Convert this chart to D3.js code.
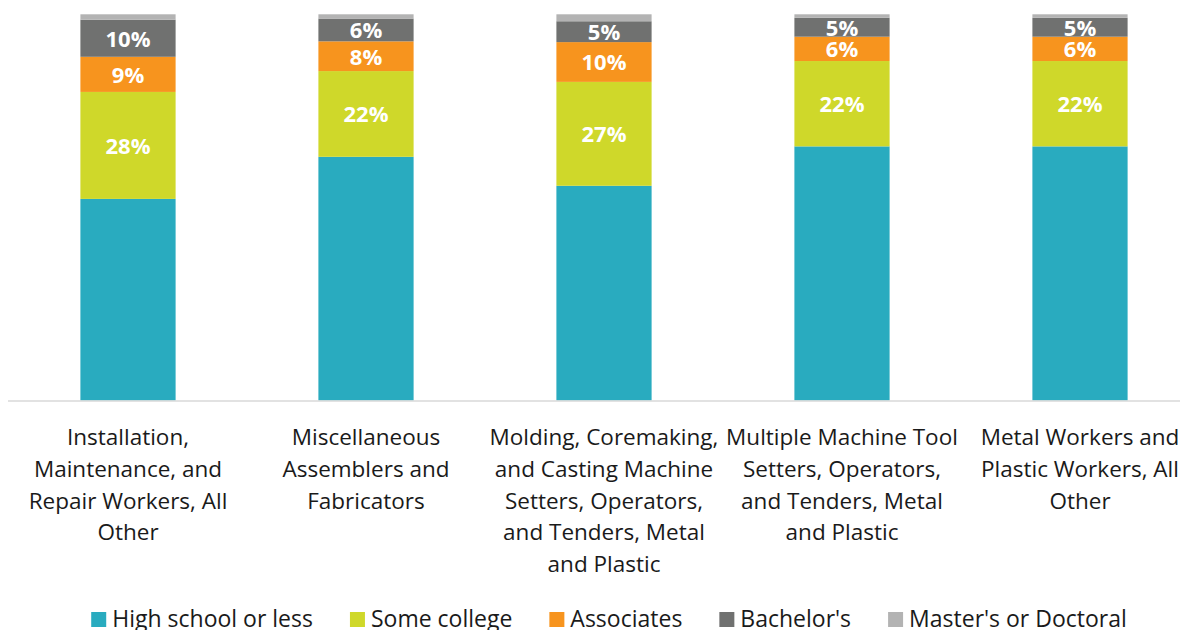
<!DOCTYPE html>
<html>
<head>
<meta charset="utf-8">
<script src="https://cdn.jsdelivr.net/npm/d3@7"></script>
<style>
  body { margin: 0; background: #fff; }
  svg { display: block; font-family: "Open Sans", sans-serif; }
</style>
</head>
<body>
<script>
const categories = [
  "Installation, Maintenance, and Repair Workers, All Other",
  "Miscellaneous Assemblers and Fabricators",
  "Molding, Coremaking, and Casting Machine Setters, Operators, and Tenders, Metal and Plastic",
  "Multiple Machine Tool Setters, Operators, and Tenders, Metal and Plastic",
  "Metal Workers and Plastic Workers, All Other"
];
// tick labels, broken the way the picture breaks them
const tickLines = [
  ["Installation,", "Maintenance, and", "Repair Workers, All", "Other"],
  ["Miscellaneous", "Assemblers and", "Fabricators"],
  ["Molding, Coremaking,", "and Casting Machine", "Setters, Operators,", "and Tenders, Metal", "and Plastic"],
  ["Multiple Machine Tool", "Setters, Operators,", "and Tenders, Metal", "and Plastic"],
  ["Metal Workers and", "Plastic Workers, All", "Other"]
];
const seriesNames = ["High school or less", "Some college", "Associates", "Bachelor's", "Master's or Doctoral"];
const highSchool = [52.2, 63.1, 55.6, 65.8, 65.8];
const someCollege = [27.7, 22.2, 26.9, 22.1, 22.1];
const associates = [9.1, 7.7, 10.3, 6.3, 6.3];
const bachelors = [9.6, 5.9, 5.4, 4.9, 4.9];
const masters = [1.4, 1.1, 1.8, 0.9, 0.9];
const colors = ["#29abbf", "#cfd82a", "#f7941e", "#707170", "#b3b3b3"];
const labelled = [false, true, true, true, false];

const W = 1180, H = 630;

const rows = categories.map((c, i) => ({
  cat: c,
  [seriesNames[0]]: highSchool[i],
  [seriesNames[1]]: someCollege[i],
  [seriesNames[2]]: associates[i],
  [seriesNames[3]]: bachelors[i],
  [seriesNames[4]]: masters[i]
}));

const stacked = d3.stack().keys(seriesNames)(rows);

const x = d3.scaleBand().domain(categories).range([9, 1199]).paddingInner(0.6).paddingOuter(0.3);
const y = d3.scaleLinear().domain([0, 100]).range([400.5, 14.3]);

const svg = d3.select("body").append("svg").attr("width", W).attr("height", H);

const layers = svg.append("g")
  .selectAll("g")
  .data(stacked)
  .join("g")
  .attr("fill", (d, i) => colors[i]);

layers.selectAll("rect")
  .data(d => d)
  .join("rect")
  .attr("x", d => x(d.data.cat))
  .attr("width", x.bandwidth())
  .attr("y", d => y(d[1]))
  .attr("height", d => y(d[0]) - y(d[1]));

// value labels on the middle segments
layers.filter((d, i) => labelled[i])
  .selectAll("text")
  .data(d => d)
  .join("text")
  .attr("x", d => x(d.data.cat) + x.bandwidth() / 2)
  .attr("y", d => (y(d[0]) + y(d[1])) / 2)
  .attr("dy", "0.38em")
  .attr("text-anchor", "middle")
  .style("fill", "#fff")
  .style("font-size", "22px")
  .style("font-weight", "bold")
  .text(d => Math.round(d[1] - d[0]) + "%");

// baseline
svg.append("line")
  .attr("x1", 8).attr("x2", W)
  .attr("y1", y(0) + 0.5).attr("y2", y(0) + 0.5)
  .attr("stroke", "#d9d9d9")
  .attr("stroke-width", 1.5);

// category labels
const ticks = svg.append("g")
  .selectAll("text")
  .data(categories)
  .join("text")
  .attr("x", d => x(d) + x.bandwidth() / 2)
  .attr("y", 445)
  .attr("text-anchor", "middle")
  .style("fill", "#1a1a1a")
  .style("font-size", "22.5px");

ticks.selectAll("tspan")
  .data((d, i) => tickLines[i])
  .join("tspan")
  .attr("x", function () { return this.parentNode.getAttribute("x"); })
  .attr("dy", (d, i) => i === 0 ? 0 : 31.8)
  .text(d => d);

// legend
const legend = svg.append("g");
const items = legend.selectAll("g")
  .data(seriesNames)
  .join("g");

items.append("rect")
  .attr("width", 15).attr("height", 15)
  .attr("y", 612)
  .attr("fill", (d, i) => colors[i]);

items.append("text")
  .attr("x", 21)
  .attr("y", 627)
  .style("fill", "#1a1a1a")
  .style("font-size", "23px")
  .text(d => d);

const gap = 37;
let widths = [];
items.each(function () { widths.push(21 + this.querySelector("text").getComputedTextLength()); });
const total = d3.sum(widths) + gap * (widths.length - 1);
let pos = 609 - total / 2;
items.attr("transform", (d, i) => {
  const t = `translate(${pos},0)`;
  pos += widths[i] + gap;
  return t;
});
</script>
</body>
</html>
